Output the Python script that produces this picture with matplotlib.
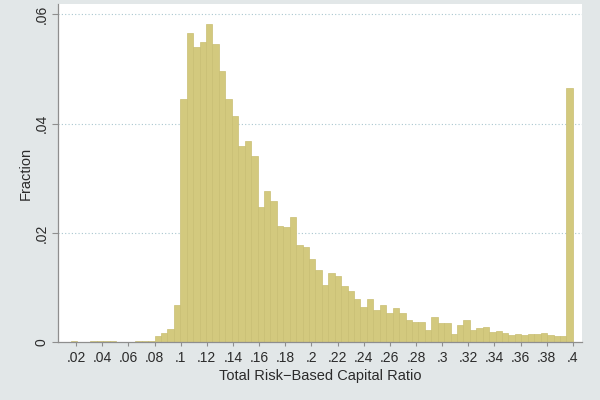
import numpy as np
import matplotlib
matplotlib.use("Agg")
import matplotlib.pyplot as plt

plt.rcParams['font.family'] = ['Liberation Sans', 'DejaVu Sans']

# ---- data (fraction per bin, 80 equal-width bins up to 0.4) ----
bin_start = 0.0062
bin_end = 0.4
n_bins = 80
fractions = [0, 0, 0.0002, 0, 0, 0.0002, 0.0003, 0.0002, 0.0002, 0.0001,
             0, 0, 0.0002, 0.0002, 0.0003, 0.00117, 0.00165, 0.00246, 0.00685, 0.04447,
             0.05662, 0.05406, 0.05497, 0.05816, 0.05455, 0.04961, 0.04447, 0.04136, 0.03592, 0.03678,
             0.03408, 0.02474, 0.02767, 0.02584, 0.02126, 0.02107, 0.02291, 0.01772, 0.01741, 0.01528,
             0.01327, 0.01039, 0.01264, 0.01204, 0.01032, 0.00938, 0.00801, 0.00649, 0.00795, 0.0059,
             0.00678, 0.00544, 0.00623, 0.00535, 0.00412, 0.00379, 0.00367, 0.00233, 0.00462, 0.00356,
             0.00356, 0.00159, 0.00312, 0.0041, 0.0022, 0.00266, 0.00288, 0.00192, 0.00214, 0.00169,
             0.00132, 0.0015, 0.00132, 0.00147, 0.00159, 0.00169, 0.00141, 0.00114, 0.00123, 0.04662]
x_ticks = [0.02, 0.04, 0.06, 0.08, 0.10, 0.12, 0.14, 0.16, 0.18, 0.20,
           0.22, 0.24, 0.26, 0.28, 0.30, 0.32, 0.34, 0.36, 0.38, 0.40]
x_labels = ['.02', '.04', '.06', '.08', '.1', '.12', '.14', '.16', '.18', '.2',
            '.22', '.24', '.26', '.28', '.3', '.32', '.34', '.36', '.38', '.4']
y_ticks = [0, 0.02, 0.04, 0.06]
y_labels = ['0', '.02', '.04', '.06']
x_title = 'Total Risk\u2212Based Capital Ratio'
y_title = 'Fraction'

assert len(fractions) == n_bins
edges = np.linspace(bin_start, bin_end, n_bins + 1)
width = edges[1] - edges[0]

bg = '#e2e7e8'
fig = plt.figure(figsize=(6, 4), dpi=100, facecolor=bg)
ax = fig.add_axes([0.0972, 0.1443, 0.8723, 0.8457])
ax.set_facecolor('white')

ax.bar(edges[:-1], fractions, width=width, align='edge',
       color='#d3c97e', edgecolor='#c9be72', linewidth=0.5, zorder=2)

ax.set_xlim(0.0064, 0.4068)
ax.set_ylim(0, 0.0619)

for yv in y_ticks[1:]:
    ax.axhline(yv, color='#a9c6cf', linestyle=(0, (1, 2)), linewidth=0.8, zorder=1)

ax.set_xticks(x_ticks)
ax.set_xticklabels(x_labels)
ax.set_yticks(y_ticks)
ax.set_yticklabels(y_labels, rotation=90, va='center')

for s in ['top', 'right']:
    ax.spines[s].set_visible(False)
for s in ['left', 'bottom']:
    ax.spines[s].set_color('#8e8e8e')
    ax.spines[s].set_linewidth(0.9)

ax.tick_params(axis='x', length=2.6, width=0.8, color='#8e8e8e', pad=3.5,
               labelsize=10, labelcolor='#2b2b2b')
ax.tick_params(axis='y', length=4.6, width=0.8, color='#8e8e8e', pad=2.5,
               labelsize=10, labelcolor='#2b2b2b')

ax.set_xlabel(x_title, fontsize=10.5, color='#2b2b2b', labelpad=3)
ax.set_ylabel(y_title, fontsize=10.5, color='#2b2b2b', labelpad=1)

fig.savefig('out.png', dpi=100, facecolor=bg)
